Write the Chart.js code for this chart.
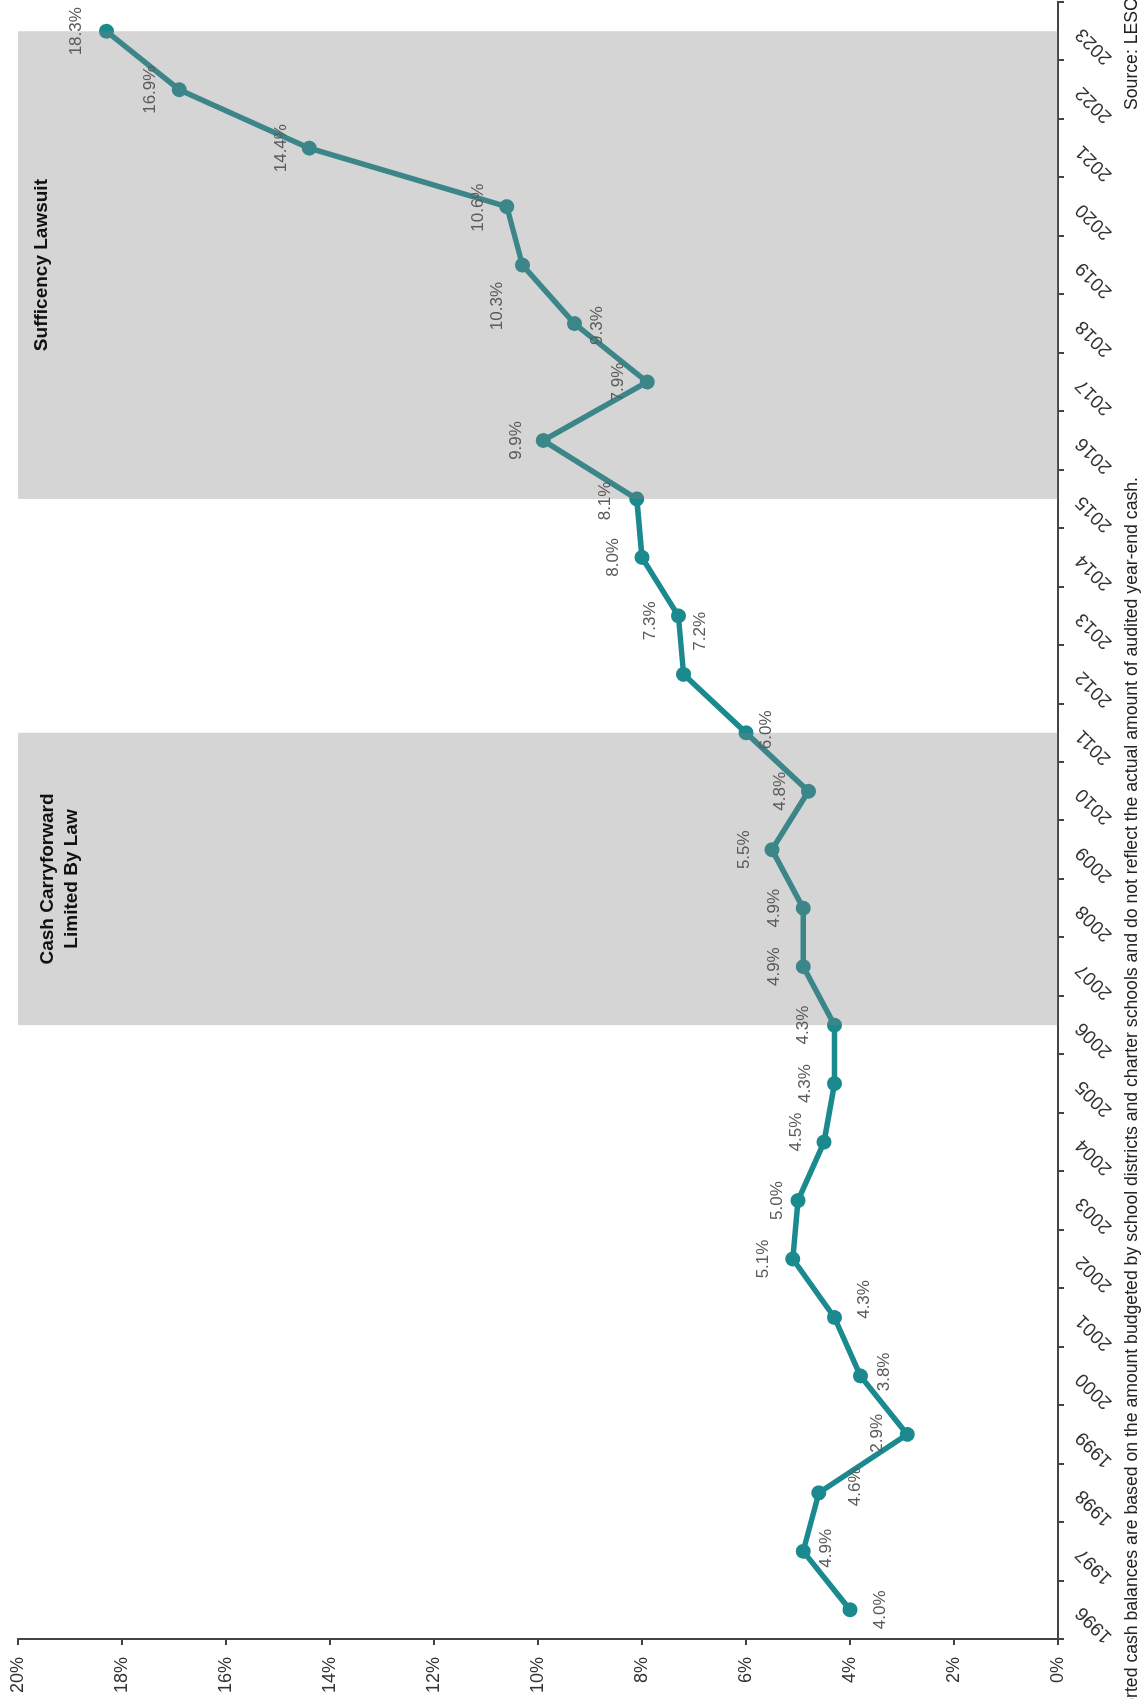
<!DOCTYPE html>
<html>
<head>
<meta charset="utf-8">
<script src="https://cdn.jsdelivr.net/npm/chart.js@4.4.1/dist/chart.umd.min.js"></script>
<style>
  html, body { margin: 0; padding: 0; background: #ffffff; overflow: hidden; }
  body { width: 1143px; height: 1699px; position: relative; }
  /* The chart is laid out landscape and turned a quarter turn counter-clockwise. */
  #frame {
    position: absolute; left: 0; top: 0;
    width: 1699px; height: 1143px;
    transform-origin: 0 0;
    transform: translate(0px, 1699px) rotate(-90deg);
  }
  canvas { display: block; }
</style>
</head>
<body>
<div id="frame"><canvas id="chart" width="1699" height="1143"></canvas></div>
<script>
// Unrestricted cash balance as a share of budget, by fiscal year
const years = ['1996','1997','1998','1999','2000','2001','2002','2003','2004','2005',
               '2006','2007','2008','2009','2010','2011','2012','2013','2014','2015',
               '2016','2017','2018','2019','2020','2021','2022','2023'];
const cashPct = [4.0, 4.9, 4.6, 2.9, 3.8, 4.3, 5.1, 5.0, 4.5, 4.3,
                 4.3, 4.9, 4.9, 5.5, 4.8, 6.0, 7.2, 7.3, 8.0, 8.1,
                 9.9, 7.9, 9.3, 10.3, 10.6, 14.4, 16.9, 18.3];
const pctTicks = [0, 2, 4, 6, 8, 10, 12, 14, 16, 18, 20];

// Policy periods shaded behind the series
const periodNames = [['Cash Carryforward', 'Limited By Law'], ['Sufficency Lawsuit']];
const periodStart = ['2006', '2015'];
const periodEnd   = ['2011', '2023'];

const footNote = 'Reported cash balances are based on the amount budgeted by school districts and charter schools and do not reflect the actual amount of audited year-end cash.';
const sourceNote = 'Source: LESC files';

// Label nudges (px) so value labels sit clear of the line
const labelNudge = [
  [0, 30], [3, 23], [6, 37], [1, -30], [4, 24], [18, 30], [0, -29], [0, -21], [10, -28], [0, -29],
  [0, -31], [0, -29], [0, -29], [0, -28], [0, -28], [3, 20], [43, 17], [-5, -28], [0, -29], [-2, -31],
  [0, -27], [0, -29], [-2, 23], [-41, -25], [-1, -28], [0, -28], [0, -29], [0, -30]
];

const TEAL = '#1b8a8f';
const FONT = "'Liberation Sans', Arial, sans-serif";

const shadePlugin = {
  id: 'periodShade',
  afterDatasetsDraw(chart) {
    const { ctx, chartArea, scales } = chart;
    ctx.save();
    ctx.fillStyle = 'rgba(128,128,128,0.33)';
    for (let i = 0; i < periodStart.length; i++) {
      const x0 = scales.x.getPixelForValue(years.indexOf(periodStart[i]));
      const x1 = scales.x.getPixelForValue(years.indexOf(periodEnd[i]));
      ctx.fillRect(x0, chartArea.top, x1 - x0, chartArea.bottom - chartArea.top);
    }
    ctx.restore();
  },
  afterDraw(chart) {
    const { ctx, scales } = chart;
    const meta = chart.getDatasetMeta(0);
    ctx.save();
    // value labels
    ctx.font = '17px ' + FONT;
    ctx.fillStyle = '#5b5b5b';
    ctx.textAlign = 'center';
    ctx.textBaseline = 'middle';
    meta.data.forEach((pt, i) => {
      const n = labelNudge[i] || [0, -29];
      ctx.fillText(cashPct[i].toFixed(1) + '%', pt.x + n[0], pt.y + n[1]);
    });
    // period titles
    ctx.fillStyle = '#111111';
    ctx.font = "bold 19px 'Liberation Sans Narrow', " + FONT;
    ctx.textBaseline = 'alphabetic';
    for (let i = 0; i < periodStart.length; i++) {
      const x0 = scales.x.getPixelForValue(years.indexOf(periodStart[i]));
      const x1 = scales.x.getPixelForValue(years.indexOf(periodEnd[i]));
      const lines = periodNames[i];
      const top = lines.length > 1 ? 53 : 47;
      lines.forEach((t, k) => ctx.fillText(t, (x0 + x1) / 2, top + k * 24));
    }
    // notes along the bottom edge
    ctx.font = '17.65px ' + FONT;
    ctx.fillStyle = '#222222';
    ctx.textAlign = 'right';
    ctx.fillText(footNote, 1222, 1137);
    ctx.textAlign = 'left';
    ctx.fillText(sourceNote, 1589, 1137);
    ctx.restore();
  }
};

new Chart(document.getElementById('chart'), {
  type: 'line',
  data: {
    labels: years,
    datasets: [{
      data: cashPct,
      borderColor: TEAL,
      backgroundColor: TEAL,
      borderWidth: 5.5,
      pointRadius: 7.5,
      pointHoverRadius: 7.5,
      pointBackgroundColor: TEAL,
      pointBorderWidth: 0,
      tension: 0,
      fill: false
    }]
  },
  options: {
    responsive: false,
    animation: false,
    devicePixelRatio: 1,
    layout: { autoPadding: false, padding: { top: 18, right: 2, left: 0, bottom: 0 } },
    plugins: { legend: { display: false }, tooltip: { enabled: false }, title: { display: false } },
    scales: {
      x: {
        type: 'category',
        offset: true,
        border: { display: true, color: '#444444', width: 2 },
        grid: { display: true, offset: true, drawOnChartArea: false, drawTicks: true, tickLength: 6, color: '#444444', lineWidth: 2 },
        ticks: {
          color: '#333333', font: { family: FONT, size: 19 },
          minRotation: 45, maxRotation: 45, autoSkip: false, padding: 7
        },
        afterFit(s) { s.height = 85; s.paddingLeft = 0; s.paddingRight = 0; }
      },
      y: {
        min: 0, max: 20,
        border: { display: true, color: '#444444', width: 2 },
        grid: { display: true, drawOnChartArea: false, drawTicks: true, tickLength: 6, color: '#444444', lineWidth: 2 },
        afterBuildTicks(s) { s.ticks = pctTicks.map(v => ({ value: v })); },
        ticks: {
          color: '#333333', font: { family: FONT, size: 18 }, padding: 12,
          callback: v => v + '%'
        },
        afterFit(s) { s.width = 60; s.paddingTop = 0; s.paddingBottom = 0; }
      }
    }
  },
  plugins: [shadePlugin]
});
</script>
</body>
</html>
